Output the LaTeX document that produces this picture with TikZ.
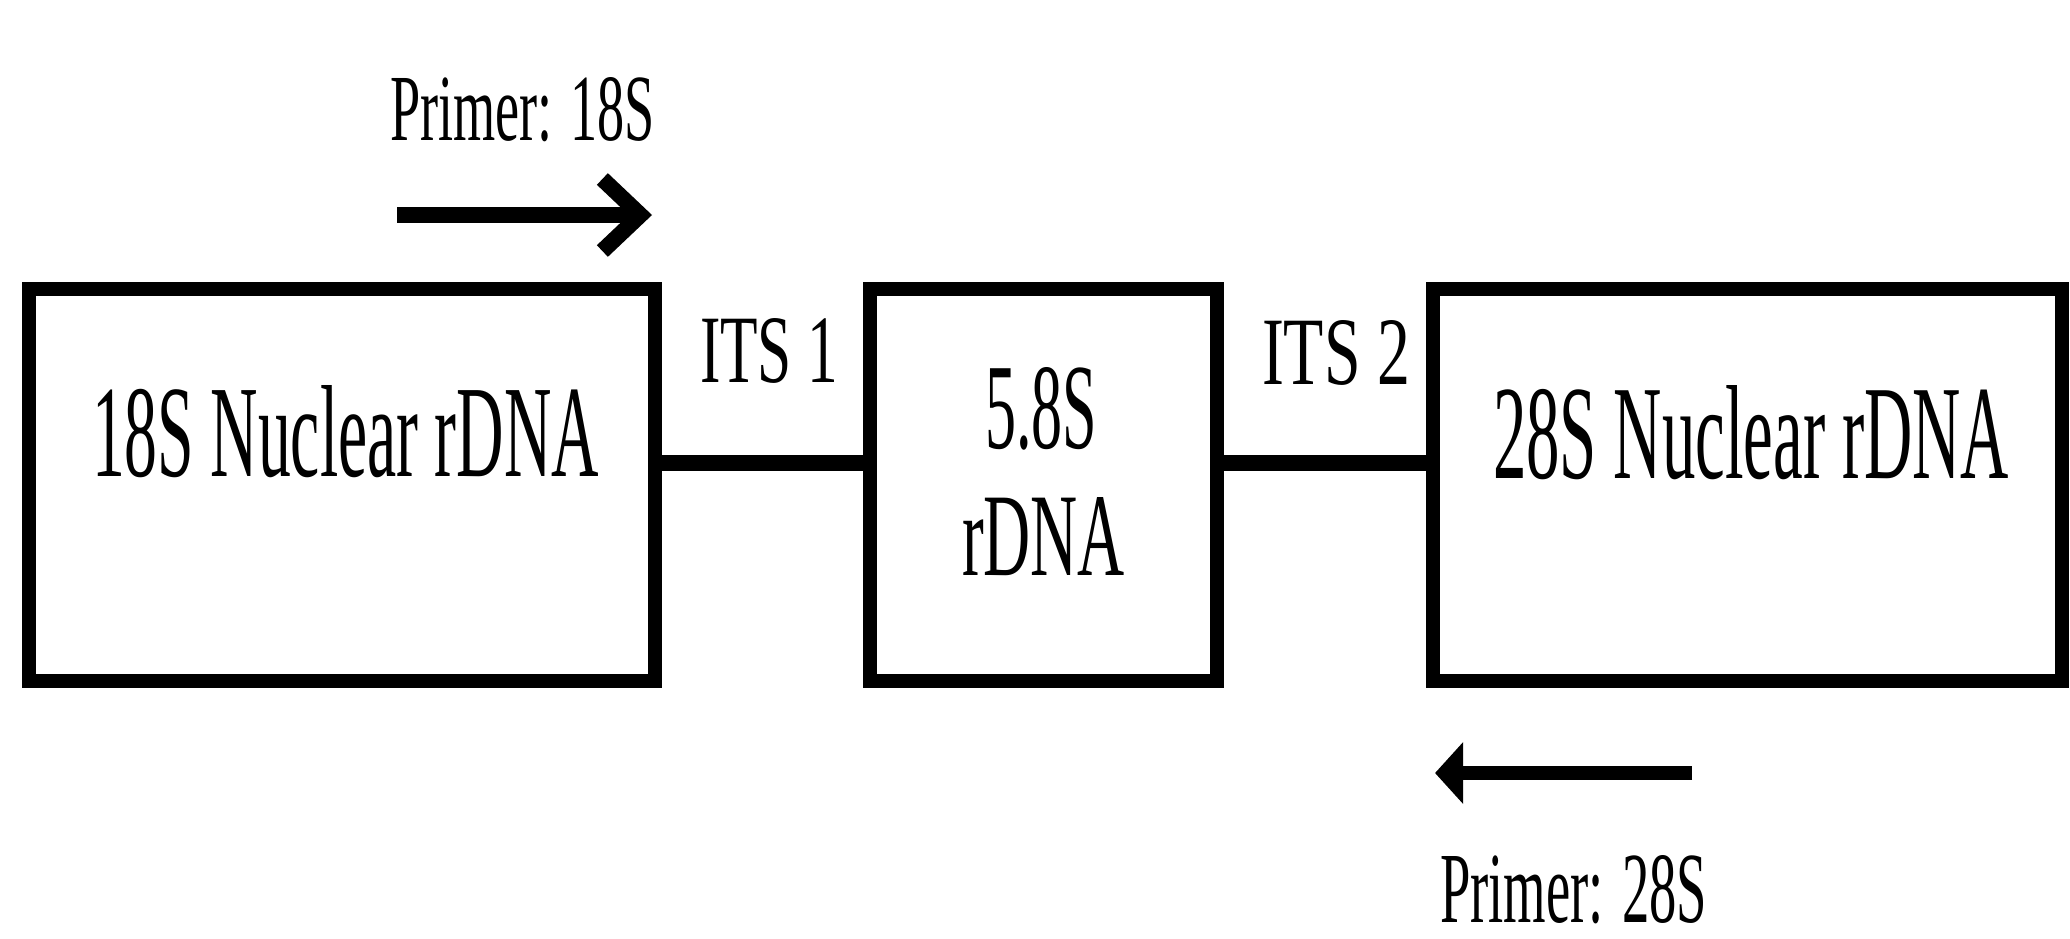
\documentclass[tikz,border=0pt]{standalone}
\usepackage{fontspec}
\setmainfont{Liberation Serif}
\usetikzlibrary{arrows.meta,calc}
\begin{document}
\begin{tikzpicture}[x=0.5pt,y=-0.5pt,
  region/.style={draw=black, line width=7pt, inner sep=0pt, outer sep=0pt, minimum height=196pt},
  label/.style={anchor=base west, inner sep=0pt, outer sep=0pt, text=black},
  conn/.style={draw=black, line width=8pt},
  primerfwd/.style={draw=black, line width=8pt, -{Straight Barb[length=19pt, width=36pt]}},
  primerrev/.style={draw=black, line width=7pt, -{Triangle[length=14pt, width=30pt]}}
]
\useasboundingbox[fill=white] (0,0) rectangle (2070,938);

% boxes
\node[region, minimum width=313pt]   (b1) at (342,485) {};
\node[region, minimum width=173.5pt] (b2) at (1043.5,485) {};
\node[region, minimum width=314.5pt] (b3) at (1747.5,485) {};

% box texts
\node[label] (t1)  at (92,476)   {\resizebox{253.5pt}{45.5pt}{18S Nuclear rDNA}};
\node[label] (t3)  at (1493,478) {\resizebox{258pt}{46.5pt}{28S Nuclear rDNA}};
\node[label] (t2a) at (985,448)  {\resizebox{56pt}{40.5pt}{5.8S}};
\node[label] (t2b) at (962,575)  {\resizebox{81.5pt}{39pt}{rDNA}};

% spacer connectors
\coordinate (lev) at (0,463);
\draw[conn] (b1.east |- lev) -- (b2.west |- lev);
\draw[conn] (b2.east |- lev) -- (b3.west |- lev);
\node[label] (its1) at (700,382)  {\resizebox{69pt}{32pt}{ITS 1}};
\node[label] (its2) at (1262,384) {\resizebox{74pt}{32pt}{ITS 2}};

% primers
\node[label] (p18) at (390,140) {\resizebox{132.5pt}{31.5pt}{Primer: 18S}};
\coordinate (f1) at (397,215);
\coordinate (f2) at (652,215);
\draw[primerfwd] (f1) -- (f2);

\coordinate (r1) at (1692,773);
\coordinate (r2) at (1435,773);
\draw[primerrev] (r1) -- (r2);
\node[label] (p28) at (1440,922) {\resizebox{133.5pt}{33.5pt}{Primer: 28S}};
\end{tikzpicture}
\end{document}
